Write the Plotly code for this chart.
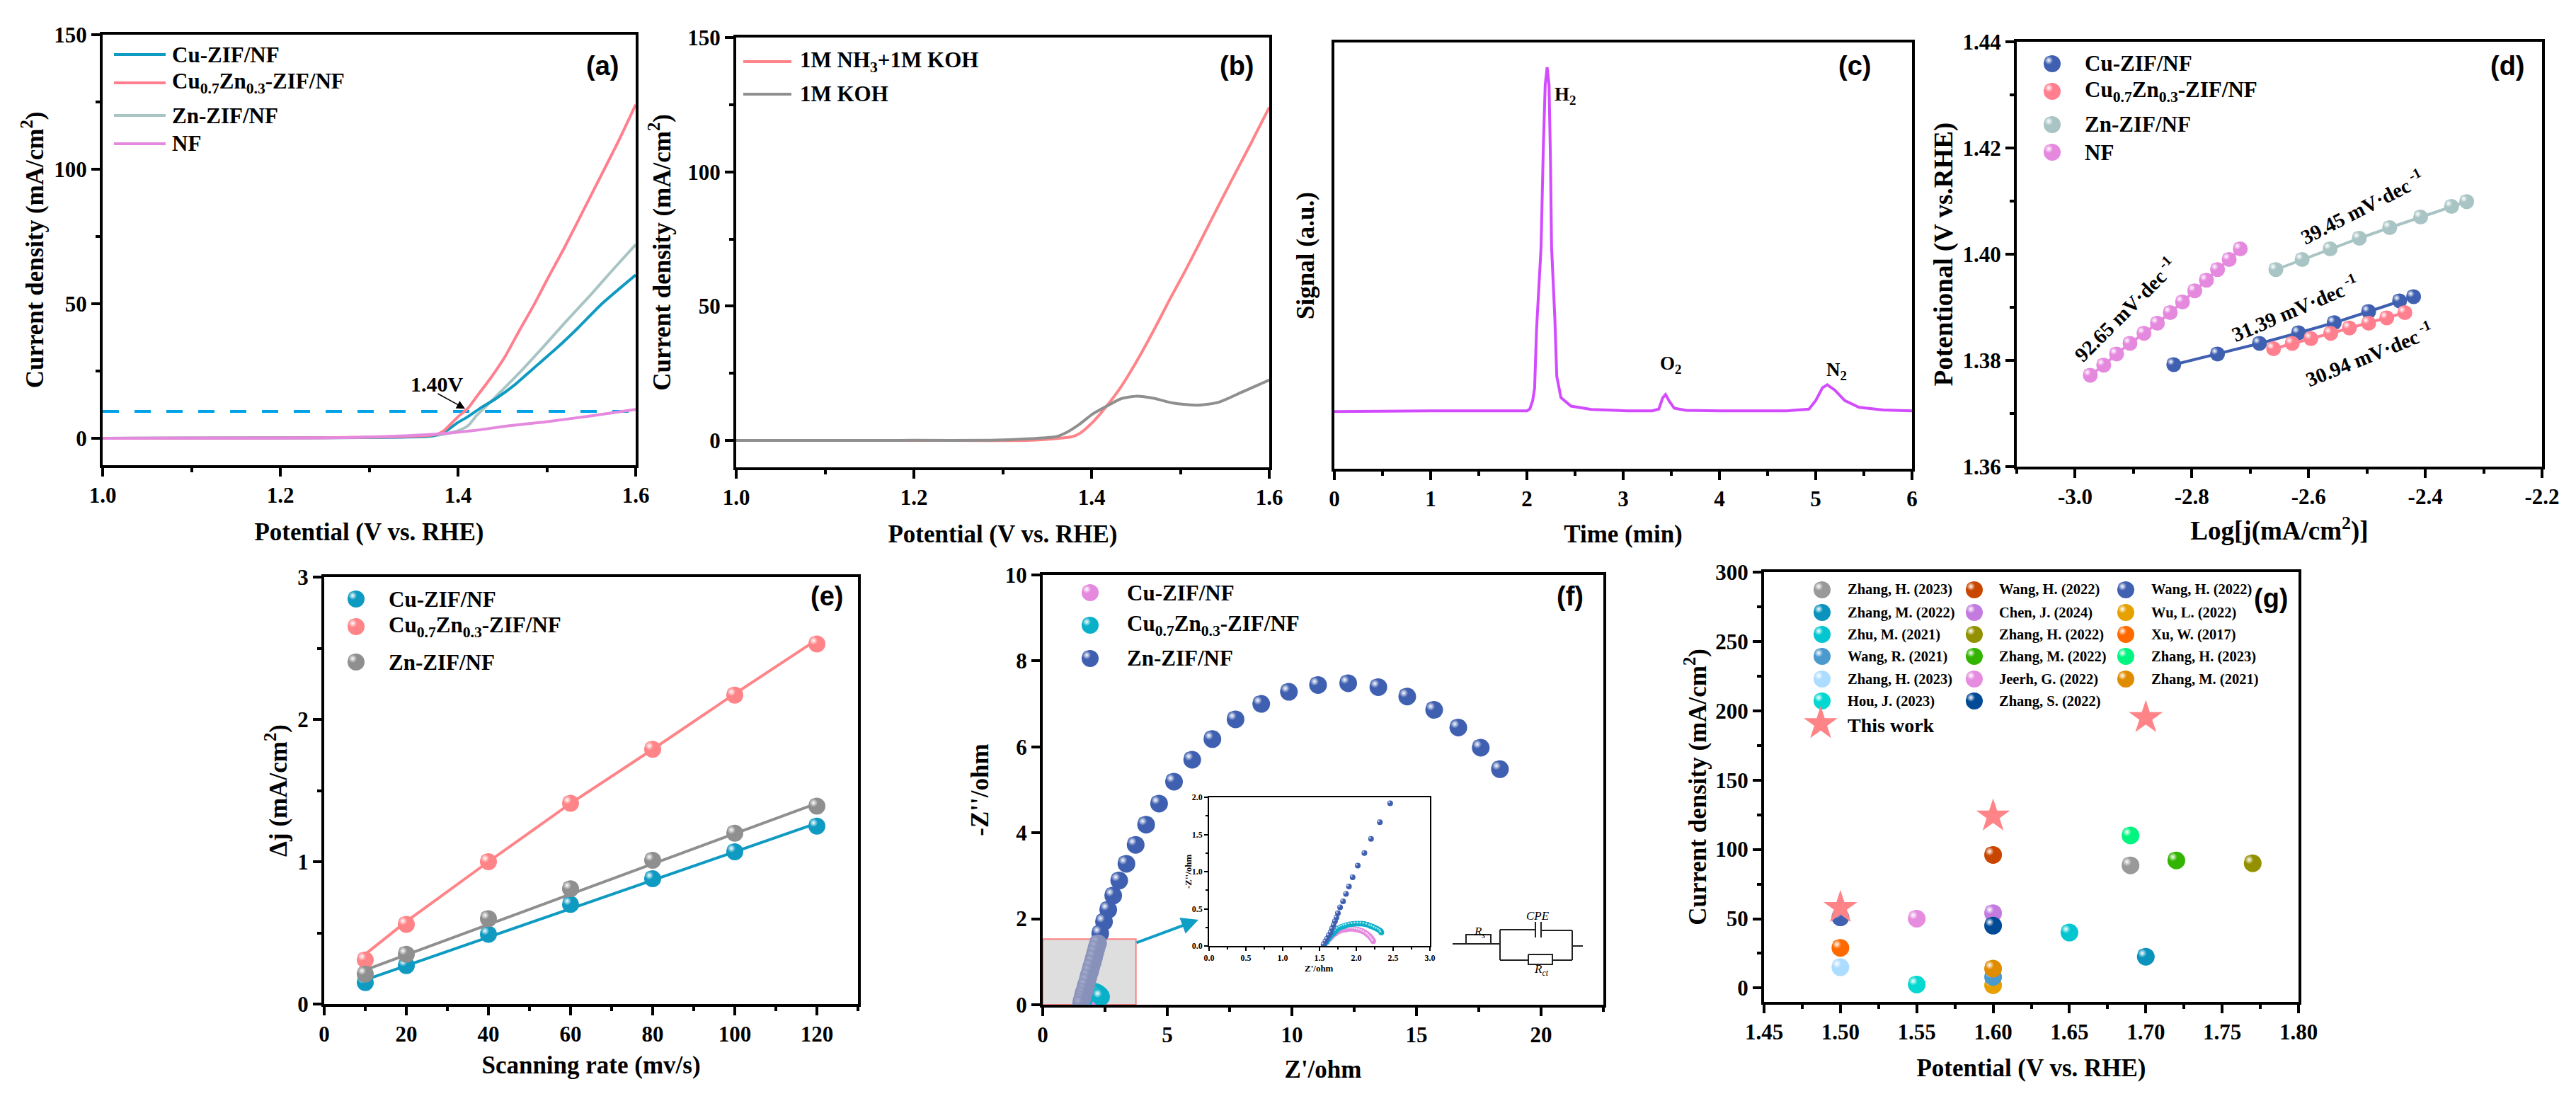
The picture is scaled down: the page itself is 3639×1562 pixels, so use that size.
import plotly.graph_objects as go

W = 3639
H = 1562
BODY_MARGIN = 8  # Browser setzt die Figur um 8 px nach rechts unten
SERIF = "Liberation Serif"
SANS = "Liberation Sans"

# Farben
BLUE_TEAL = "#0f9ac2"
PINK = "#ff7f8f"
SALMON = "#ff8488"
GREY_TEAL = "#a9c4c4"
ORCHID = "#e589de"
GREY = "#8f8f8f"
ROYAL = "#3f5fb0"
CYAN = "#0ab0c8"

# (a) LSV
A_CU_X = [1.0, 1.2, 1.3, 1.36, 1.373, 1.387, 1.4, 1.411, 1.427, 1.442, 1.464, 1.485, 1.512, 1.535, 1.562, 1.6]
A_CU_Y = [0, 0.1, 0.3, 0.6, 1.0, 2.8, 5.9, 8.0, 11.6, 14.6, 19.9, 26, 33.8, 41, 50, 60.7]
A_ZN_X = [1.0, 1.2, 1.3, 1.37, 1.385, 1.4, 1.411, 1.421, 1.432, 1.448, 1.469, 1.496, 1.522, 1.549, 1.575, 1.6]
A_ZN_Y = [0, 0.1, 0.3, 0.9, 1.6, 2.8, 4.6, 8.5, 12, 17.3, 24.3, 34, 43.6, 53.2, 62.9, 72]
A_MIX_X = [1.0, 1.2, 1.3, 1.36, 1.376, 1.384, 1.4, 1.411, 1.421, 1.437, 1.453, 1.469, 1.485, 1.501, 1.52, 1.55, 1.58, 1.6]
A_MIX_Y = [0, 0.1, 0.4, 0.9, 1.5, 2.8, 8, 11.1, 15.5, 22.5, 30.4, 40, 49.3, 59.4, 71, 90.5, 110, 124]
A_NF_X = [1.0, 1.283, 1.373, 1.416, 1.456, 1.496, 1.549, 1.6]
A_NF_Y = [0, 0.35, 1.5, 2.8, 4.6, 6, 8.3, 10.7]
A_REF_X = [1.0, 1.6]
A_REF_Y = [10, 10]

# (b) NH3 vs KOH
B_NH3_X = [1.0, 1.2, 1.332, 1.378, 1.387, 1.401, 1.415, 1.433, 1.451, 1.47, 1.488, 1.506, 1.52, 1.55, 1.58, 1.6]
B_NH3_Y = [0, 0.03, 0.1, 1.4, 2.7, 6.7, 12, 19.9, 29.6, 41, 52.5, 63.5, 72.5, 92, 111, 124]
B_KOH_X = [1.0, 1.2, 1.286, 1.332, 1.36, 1.373, 1.387, 1.401, 1.415, 1.433, 1.451, 1.47, 1.492, 1.52, 1.543, 1.57, 1.6]
B_KOH_Y = [0, 0.05, 0.1, 0.7, 1.4, 3.2, 6.2, 9.8, 12.4, 15.5, 16.5, 15.7, 13.9, 13.1, 14.2, 18.1, 22.5]

# (c) GC
C_X = [0, 1, 2, 2.03, 2.06, 2.08, 2.10, 2.147, 2.17, 2.19, 2.21, 2.23, 2.245, 2.256, 2.29, 2.31, 2.353, 2.458, 2.668,
       3.04, 3.3, 3.37, 3.41, 3.44, 3.48, 3.53, 3.65, 4.0, 4.7, 4.93, 5.0, 5.07, 5.12, 5.2, 5.3, 5.45, 5.7, 6]
C_Y = [13.4, 13.6, 13.6, 14, 16, 18.9, 32.6, 52, 75, 90, 94.2, 90, 72, 52, 35.4, 21.7, 16.7, 14.7, 13.9,
       13.6, 13.6, 14, 16.6, 17.4, 15.8, 14.2, 13.7, 13.6, 13.6, 14, 16, 19, 19.7, 18.4, 16, 14.4, 13.8, 13.6]

# (d) Tafel
D_CU_X = [-2.831, -2.756, -2.684, -2.617, -2.556, -2.497, -2.444, -2.420]
D_CU_Y = [1.3792, 1.3812, 1.3832, 1.3852, 1.3871, 1.3892, 1.3912, 1.3920]
D_MIX_X = [-2.660, -2.628, -2.596, -2.562, -2.530, -2.497, -2.466, -2.435]
D_MIX_Y = [1.3822, 1.3832, 1.3841, 1.3851, 1.3861, 1.3870, 1.3880, 1.3890]
D_ZN_X = [-2.656, -2.611, -2.563, -2.513, -2.461, -2.408, -2.355, -2.329]
D_ZN_Y = [1.3971, 1.3990, 1.4010, 1.4030, 1.4050, 1.4070, 1.4090, 1.4099]
D_NF_X = [-2.974, -2.951, -2.929, -2.906, -2.882, -2.859, -2.837, -2.816, -2.795, -2.775, -2.756, -2.736, -2.717]
D_NF_Y = [1.3772, 1.3791, 1.3812, 1.3832, 1.3851, 1.3870, 1.3890, 1.3910, 1.3931, 1.3951, 1.3971, 1.3990, 1.4010]
D_TICK_VALS = [-3.0, -2.8, -2.6, -2.4, -2.2]
D_TICK_TEXT = ["-3.0", "-2.8", "-2.6", "-2.4", "-2.2"]

# (e) Cdl
E_RATE = [10, 20, 40, 60, 80, 100, 120]
E_CU = [0.15, 0.27, 0.49, 0.70, 0.88, 1.07, 1.25]
E_MIX = [0.31, 0.56, 1.00, 1.41, 1.79, 2.17, 2.53]
E_ZN = [0.21, 0.35, 0.60, 0.81, 1.01, 1.20, 1.39]
E_FIT_X = [10, 120]
E_CU_FIT = [0.17, 1.27]
E_ZN_FIT = [0.24, 1.41]
E_MIX_FIT_X = [10, 20, 40, 60, 80, 100, 120]
E_MIX_FIT = [0.35, 0.58, 1.00, 1.41, 1.79, 2.18, 2.56]

# (f) EIS
F_ZN_X = [18.35, 17.58, 16.68, 15.71, 14.63, 13.47, 12.26, 11.05, 9.88, 8.77, 7.74, 6.81, 6.0, 5.27, 4.67, 4.15,
          3.73, 3.36, 3.07, 2.83, 2.63, 2.46, 2.31, 2.22, 2.16, 2.11, 2.06, 2.01, 1.95, 1.90, 1.84, 1.79, 1.73, 1.68, 1.63, 1.60, 1.56, 1.54]
F_ZN_Y = [5.48, 5.98, 6.45, 6.86, 7.17, 7.39, 7.48, 7.44, 7.28, 7.0, 6.64, 6.18, 5.70, 5.19, 4.68, 4.19,
          3.72, 3.28, 2.89, 2.54, 2.21, 1.93, 1.66, 1.43, 1.32, 1.21, 1.10, 0.99, 0.88, 0.77, 0.66, 0.55, 0.44, 0.33, 0.25, 0.17, 0.09, 0.02]
F_MIX_X = [1.57, 1.60, 1.63, 1.66, 1.69, 1.72, 1.75, 1.78, 1.81, 1.84, 1.87, 1.91, 1.95, 1.99, 2.03, 2.07, 2.11, 2.15, 2.19, 2.22, 2.25, 2.28, 2.31, 2.33, 2.34]
F_MIX_Y = [0.02, 0.06, 0.10, 0.14, 0.17, 0.20, 0.23, 0.25, 0.26, 0.27, 0.28, 0.29, 0.295, 0.30, 0.30, 0.30, 0.295, 0.285, 0.27, 0.26, 0.245, 0.23, 0.215, 0.20, 0.18]
F_CU_X = [1.57, 1.60, 1.63, 1.66, 1.69, 1.72, 1.75, 1.78, 1.81, 1.84, 1.87, 1.90, 1.93, 1.96, 1.99, 2.02, 2.05, 2.08, 2.11, 2.14, 2.16, 2.18, 2.20, 2.21, 2.22, 2.23]
F_CU_Y = [0.02, 0.05, 0.09, 0.12, 0.15, 0.17, 0.19, 0.205, 0.215, 0.22, 0.225, 0.23, 0.23, 0.23, 0.225, 0.22, 0.21, 0.20, 0.185, 0.165, 0.15, 0.13, 0.11, 0.095, 0.08, 0.065]
I_ZN_X = [2.46, 2.32, 2.20, 2.11, 2.02, 1.95, 1.90, 1.86, 1.82, 1.78, 1.75, 1.73, 1.71, 1.69, 1.67, 1.65, 1.625, 1.60, 1.58, 1.555]
I_ZN_Y = [1.92, 1.665, 1.44, 1.25, 1.08, 0.925, 0.80, 0.70, 0.60, 0.52, 0.44, 0.38, 0.33, 0.28, 0.23, 0.18, 0.14, 0.095, 0.06, 0.02]

# (g) Literaturvergleich
LIT_NAMES = ["Zhang, H. (2023)", "Zhang, M. (2022)", "Zhu, M. (2021)", "Wang, R. (2021)", "Zhang, H. (2023)", "Hou, J. (2023)",
             "Wang, H. (2022)", "Chen, J. (2024)", "Zhang, H. (2022)", "Zhang, M. (2022)", "Jeerh, G. (2022)", "Zhang, S. (2022)",
             "Wang, H. (2022)", "Wu, L. (2022)", "Xu, W. (2017)", "Zhang, H. (2023)", "Zhang, M. (2021)"]
LIT_COLORS = ["#999999", "#0a93bd", "#04c6d0", "#4a9acd", "#acdcff", "#04d8d0",
              "#c84600", "#c47be0", "#939100", "#32b400", "#e68ce0", "#004a96",
              "#4060b0", "#e6a000", "#ff6a00", "#00f580", "#e08c00"]
LIT_X = [1.69, 1.70, 1.65, 1.60, 1.50, 1.55, 1.60, 1.60, 1.77, 1.72, 1.55, 1.60, 1.50, 1.60, 1.50, 1.69, 1.60]
LIT_Y = [88.5, 22.6, 40, 8, 15, 2.5, 96, 54, 90, 92, 50, 45, 51, 2, 29, 110, 14]
LIT_DRAW_ORDER = [0, 15, 2, 1, 5, 4, 14, 12, 6, 8, 9, 10, 7, 11, 13, 3, 16]
STAR_X = [1.50, 1.60, 1.70]
STAR_Y = [58, 124, 195]

# Achsen: Pixelbox (links, oben, rechts, unten) und Wertebereich
PANELS = {
    "a": dict(ax="", box=(145, 49, 898, 657), xr=[1.0, 1.6], yr=[-10, 150]),
    "b": dict(ax="2", box=(1040, 53, 1793, 660), xr=[1.0, 1.6], yr=[-10, 150]),
    "c": dict(ax="3", box=(1885, 60, 2701, 662), xr=[0, 6], yr=[0, 100]),
    "d": dict(ax="4", box=(2849, 59, 3591, 659), xr=[-3.1, -2.2], yr=[1.36, 1.44]),
    "e": dict(ax="5", box=(458, 815, 1212, 1418), xr=[0, 130], yr=[0, 3]),
    "f": dict(ax="6", box=(1473, 812, 2265, 1419), xr=[0, 22.5], yr=[0, 10]),
    "g": dict(ax="7", box=(2492, 808, 3247, 1415), xr=[1.45, 1.80], yr=[-10, 300]),
    "i": dict(ax="8", box=(1708, 1126, 2020, 1336), xr=[0, 3], yr=[0, 2]),
}


def fx(px):
    return (px - BODY_MARGIN) / W


def fy(py):
    return 1 - (py - BODY_MARGIN) / H


def to_data(panel, px, py):
    # Pixel im Bild in Achsenwerte umrechnen (fuer Legenden-Kugeln)
    p = PANELS[panel]
    l, t, r, b = p["box"]
    x = p["xr"][0] + (px - l) / (r - l) * (p["xr"][1] - p["xr"][0])
    y = p["yr"][0] + (b - py) / (b - t) * (p["yr"][1] - p["yr"][0])
    return x, y


def text_font(size, bold=True, family=SERIF, italic=False, color="black"):
    return dict(family=family, size=size, color=color, weight=700 if bold else 400, style="italic" if italic else "normal")


fig = go.Figure()
annotations = []
shapes = []
axes = {}


def make_axes(panel, xtitle, ytitle, xstand, ystand, xkw, ykw, tick_size=31, title_size=35, line=4, tlen=12, mlen=6):
    p = PANELS[panel]
    l, t, r, b = p["box"]
    base = dict(showgrid=False, zeroline=False, showline=True, mirror=True, linecolor="black", linewidth=line,
                ticks="outside", ticklen=tlen, tickwidth=line, tickcolor="black", automargin=False,
                tickfont=text_font(tick_size), layer="above traces")
    xa = dict(base, domain=[fx(l), fx(r)], range=p["xr"], anchor="y" + p["ax"])
    ya = dict(base, domain=[fy(b), fy(t)], range=p["yr"], anchor="x" + p["ax"])
    if xtitle:
        xa["title"] = dict(text=xtitle, font=text_font(title_size), standoff=xstand)
    if ytitle:
        ya["title"] = dict(text=ytitle, font=text_font(title_size), standoff=ystand)
    for key, kw in (("x", xkw), ("y", ykw)):
        kw = dict(kw)
        minor = kw.pop("minor_dtick", None)
        if minor is not None:
            kw["minor"] = dict(dtick=minor, ticks="outside", ticklen=mlen, tickwidth=line, tickcolor="black", showgrid=False)
        (xa if key == "x" else ya).update(kw)
    axes["xaxis" + p["ax"]] = xa
    axes["yaxis" + p["ax"]] = ya


def line(panel, x, y, color, width=4, dash=None, smooth=False):
    ax = PANELS[panel]["ax"]
    shape = dict(shape="spline", smoothing=0.6) if smooth else {}
    fig.add_trace(go.Scatter(x=x, y=y, mode="lines", xaxis="x" + ax, yaxis="y" + ax, showlegend=False,
                             line=dict(color=color, width=width, dash=dash, **shape)))


def balls(panel, x, y, color, size, shine="white", symbol="circle"):
    # Kugel: Grundfarbe plus kleiner Glanzpunkt oben links
    p = PANELS[panel]
    l, t, r, b = p["box"]
    dx = size * 0.2 * (p["xr"][1] - p["xr"][0]) / (r - l)
    dy = size * 0.2 * (p["yr"][1] - p["yr"][0]) / (b - t)
    ax = p["ax"]
    fig.add_trace(go.Scatter(x=x, y=y, mode="markers", xaxis="x" + ax, yaxis="y" + ax, showlegend=False,
                             marker=dict(color=color, size=size, symbol=symbol, line=dict(width=0))))
    fig.add_trace(go.Scatter(x=[v - dx for v in x], y=[v + dy for v in y], mode="markers", xaxis="x" + ax, yaxis="y" + ax,
                             showlegend=False, hoverinfo="skip",
                             marker=dict(color=color, size=size * 0.5, line=dict(width=0),
                                         gradient=dict(type="radial", color=shine))))


def label(px, py, text, size=31, xanchor="left", angle=0, **kw):
    annotations.append(dict(x=fx(px), y=fy(py), xref="paper", yref="paper", text=text, showarrow=False,
                            xanchor=xanchor, yanchor="middle", textangle=angle, font=text_font(size, **kw)))


def swatch(px0, px1, py, color, width=4):
    shapes.append(dict(type="line", xref="paper", yref="paper", x0=fx(px0), x1=fx(px1), y0=fy(py), y1=fy(py),
                       line=dict(color=color, width=width)))


def legend_ball(panel, px, py, color, size):
    x, y = to_data(panel, px, py)
    balls(panel, [x], [y], color, size)


def wire(points):
    # Ersatzschaltbild im Bild von (f)
    path = "M " + " L ".join(f"{fx(x):.5f},{fy(y):.5f}" for x, y in points)
    shapes.append(dict(type="path", xref="paper", yref="paper", path=path, line=dict(color="#222222", width=2)))


MIX = "Cu<sub>0.7</sub>Zn<sub>0.3</sub>-ZIF/NF"
J_TITLE = "Current density (mA/cm<sup>2</sup>)"
POT_TITLE = "Potential (V vs. RHE)"

# (a)
make_axes("a", POT_TITLE, J_TITLE, 23, 5, dict(dtick=0.2, tick0=1.0, tickformat=".1f", minor_dtick=0.1), dict(dtick=50, tick0=0, minor_dtick=25))
line("a", A_REF_X, A_REF_Y, "#00a2e8", 4, "23px,22px")
line("a", A_ZN_X, A_ZN_Y, GREY_TEAL, smooth=True)
line("a", A_CU_X, A_CU_Y, BLUE_TEAL, smooth=True)
line("a", A_MIX_X, A_MIX_Y, PINK, smooth=True)
line("a", A_NF_X, A_NF_Y, ORCHID, smooth=True)
for py, name, col in [(77, "Cu-ZIF/NF", BLUE_TEAL), (117, MIX, PINK), (163, "Zn-ZIF/NF", GREY_TEAL), (203, "NF", ORCHID)]:
    swatch(161, 234, py, col)
    label(241, py, name)
label(851, 93, "(a)", 38, xanchor="center", family=SANS)
label(617, 542, "1.40V", 30, xanchor="center")
annotations.append(dict(x=1.408, y=11, xref="x", yref="y", text="", showarrow=True, ax=-40, ay=-22,
                        arrowhead=2, arrowsize=1.6, arrowwidth=1.5, arrowcolor="black"))

# (b)
make_axes("b", POT_TITLE, J_TITLE, 23, 14, dict(dtick=0.2, tick0=1.0, tickformat=".1f", minor_dtick=0.1), dict(dtick=50, tick0=0, minor_dtick=25))
line("b", B_NH3_X, B_NH3_Y, SALMON, smooth=True)
line("b", B_KOH_X, B_KOH_Y, GREY, smooth=True)
swatch(1050, 1118, 87, SALMON)
label(1128, 87, "1M NH<sub>3</sub>+1M KOH")
swatch(1050, 1118, 133, GREY)
label(1128, 133, "1M KOH")
label(1747, 93, "(b)", 38, xanchor="center", family=SANS)

# (c)
make_axes("c", "Time (min)", "Signal (a.u.)", 21, 15, dict(dtick=1, tick0=0, minor_dtick=0.5), dict(ticks="", showticklabels=False))
line("c", C_X, C_Y, "#d24bff", 4)
label(2211, 135, "H<sub>2</sub>", 27, xanchor="center")
label(2360, 515, "O<sub>2</sub>", 27, xanchor="center")
label(2594, 524, "N<sub>2</sub>", 27, xanchor="center")
label(2620, 93, "(c)", 38, xanchor="center", family=SANS)

# (d)
make_axes("d", "Log[j(mA/cm<sup>2</sup>)]", "Potentional (V vs.RHE)", 19, 4,
          dict(tickvals=D_TICK_VALS, ticktext=D_TICK_TEXT, minor_dtick=0.1),
          dict(dtick=0.02, tick0=1.36, tickformat=".2f", minor_dtick=0.01), title_size=37)
for x, y, col in [(D_NF_X, D_NF_Y, ORCHID), (D_ZN_X, D_ZN_Y, GREY_TEAL), (D_CU_X, D_CU_Y, ROYAL), (D_MIX_X, D_MIX_Y, PINK)]:
    line("d", x, y, col)
    balls("d", x, y, col, 21)
for py, name, col in [(90, "Cu-ZIF/NF", ROYAL), (129, MIX, PINK), (176, "Zn-ZIF/NF", GREY_TEAL), (215, "NF", ORCHID)]:
    legend_ball("d", 2899, py, col, 24)
    label(2943, py, name)
label(3542, 93, "(d)", 38, xanchor="center", family=SANS)
SLOPE = " mV·dec<sup> -1</sup>"
label(3336, 292, "39.45" + SLOPE, 29, xanchor="center", angle=-27)
label(3001, 437, "92.65" + SLOPE, 29, xanchor="center", angle=-45)
label(3241, 435, "31.39" + SLOPE, 29, xanchor="center", angle=-23)
label(3346, 500, "30.94" + SLOPE, 29, xanchor="center", angle=-22)

# (e)
make_axes("e", "Scanning rate (mv/s)", "Δj (mA/cm<sup>2</sup>)", 15, 5,
          dict(dtick=20, tick0=0, minor_dtick=10), dict(dtick=1, tick0=0, minor_dtick=0.5))
line("e", E_MIX_FIT_X, E_MIX_FIT, SALMON)
balls("e", E_RATE, E_MIX, SALMON, 24)
line("e", E_FIT_X, E_CU_FIT, BLUE_TEAL)
balls("e", E_RATE, E_CU, BLUE_TEAL, 24)
line("e", E_FIT_X, E_ZN_FIT, GREY)
balls("e", E_RATE, E_ZN, GREY, 24)
for py, name, col in [(846, "Cu-ZIF/NF", BLUE_TEAL), (885, MIX, SALMON), (935, "Zn-ZIF/NF", GREY)]:
    legend_ball("e", 503, py, col, 24)
    label(547, py, name)
label(1168, 842, "(e)", 38, xanchor="center", family=SANS)

# (f)
make_axes("f", "Z'/ohm", "-Z''/ohm", 20, 14, dict(dtick=5, tick0=0, minor_dtick=2.5), dict(dtick=2, tick0=0))
shapes.append(dict(type="rect", xref="x6", yref="y6", x0=0, x1=3.74, y0=0, y1=1.53, layer="below",
                   fillcolor="#dedede", line=dict(color="#ff8080", width=2)))
balls("f", F_CU_X, F_CU_Y, ORCHID, 25)
balls("f", F_MIX_X, F_MIX_Y, CYAN, 25)
ZN_TOP = [i for i, v in enumerate(F_ZN_Y) if v >= 1.5]
ZN_LOW = [i for i, v in enumerate(F_ZN_Y) if v < 1.5]
balls("f", [F_ZN_X[i] for i in ZN_TOP], [F_ZN_Y[i] for i in ZN_TOP], ROYAL, 25)
balls("f", [F_ZN_X[i] for i in ZN_LOW], [F_ZN_Y[i] for i in ZN_LOW], "#8791ba", 25, shine="#a8aecb")
for py, name, col in [(837, "Cu-ZIF/NF", ORCHID), (883, MIX, CYAN), (930, "Zn-ZIF/NF", ROYAL)]:
    legend_ball("f", 1540, py, col, 24)
    label(1590, py, name)
label(2218, 842, "(f)", 38, xanchor="center", family=SANS)
annotations.append(dict(x=fx(1693), y=fy(1299), xref="paper", yref="paper", text="", showarrow=True, ax=-89, ay=33,
                        arrowhead=2, arrowsize=1.2, arrowwidth=4, arrowcolor="#0f9ec5"))

# Inset
make_axes("i", "", "", 6, 6, dict(dtick=0.5, tick0=0, minor_dtick=0.25, tickformat=".1f"),
          dict(dtick=0.5, tick0=0, minor_dtick=0.25, tickformat=".1f"), tick_size=12, title_size=13, line=1.5, tlen=5, mlen=3)
balls("i", F_CU_X, F_CU_Y, ORCHID, 8)
balls("i", F_MIX_X, F_MIX_Y, CYAN, 8)
balls("i", I_ZN_X, I_ZN_Y, ROYAL, 8)
label(1863, 1367, "Z'/ohm", 13, xanchor="center")
label(1678, 1231, "-Z''/ohm", 13, xanchor="center", angle=-90)

# Ersatzschaltbild
wire([(2052, 1333), (2071, 1333)])
wire([(2071, 1333), (2071, 1320), (2106, 1320), (2106, 1333), (2071, 1333)])
wire([(2106, 1333), (2119, 1333)])
wire([(2119, 1313), (2119, 1356)])
wire([(2119, 1313), (2169, 1313)])
wire([(2169, 1302), (2169, 1324)])
wire([(2177, 1302), (2177, 1324)])
wire([(2177, 1314), (2221, 1314)])
wire([(2221, 1314), (2221, 1356)])
wire([(2119, 1356), (2159, 1356)])
wire([(2159, 1348), (2193, 1348), (2193, 1362), (2159, 1362), (2159, 1348)])
wire([(2193, 1356), (2221, 1356)])
wire([(2221, 1336), (2236, 1336)])
label(2172, 1293, "CPE", 17, xanchor="center", bold=False, italic=True)
label(2090, 1317, "R<sub>s</sub>", 17, xanchor="center", bold=False, italic=True)
label(2177, 1370, "R<sub>ct</sub>", 17, xanchor="center", bold=False, italic=True)

# (g)
make_axes("g", POT_TITLE, J_TITLE, 22, 3, dict(dtick=0.05, tick0=1.45, tickformat=".2f", minor_dtick=0.025),
          dict(dtick=50, tick0=0, minor_dtick=25))
for i in LIT_DRAW_ORDER:
    balls("g", [LIT_X[i]], [LIT_Y[i]], LIT_COLORS[i], 25)
balls_ax = PANELS["g"]["ax"]
fig.add_trace(go.Scatter(x=STAR_X, y=STAR_Y, mode="markers", xaxis="x" + balls_ax, yaxis="y" + balls_ax, showlegend=False,
                         marker=dict(symbol="star", color=SALMON, size=36, line=dict(width=0))))
ROW_Y = [833, 865, 896, 927, 959, 990]
for i, name in enumerate(LIT_NAMES):
    col = i // 6
    row = i % 6
    legend_ball("g", [2574, 2789, 3003][col], ROW_Y[row], LIT_COLORS[i], 24)
    label([2608, 2822, 3037][col], ROW_Y[row], name, 20.5)
sx, sy = to_data("g", 2572, 1022)
fig.add_trace(go.Scatter(x=[sx], y=[sy], mode="markers", xaxis="x" + balls_ax, yaxis="y" + balls_ax, showlegend=False,
                         marker=dict(symbol="star", color=SALMON, size=36, line=dict(width=0))))
label(2608, 1024, "This work", 28)
label(3208, 845, "(g)", 38, xanchor="center", family=SANS)

fig.update_layout(width=W, height=H, margin=dict(l=0, r=0, t=0, b=0), paper_bgcolor="white", plot_bgcolor="white",
                  showlegend=False, annotations=annotations, shapes=shapes, **axes)
fig.write_html("out.html")
